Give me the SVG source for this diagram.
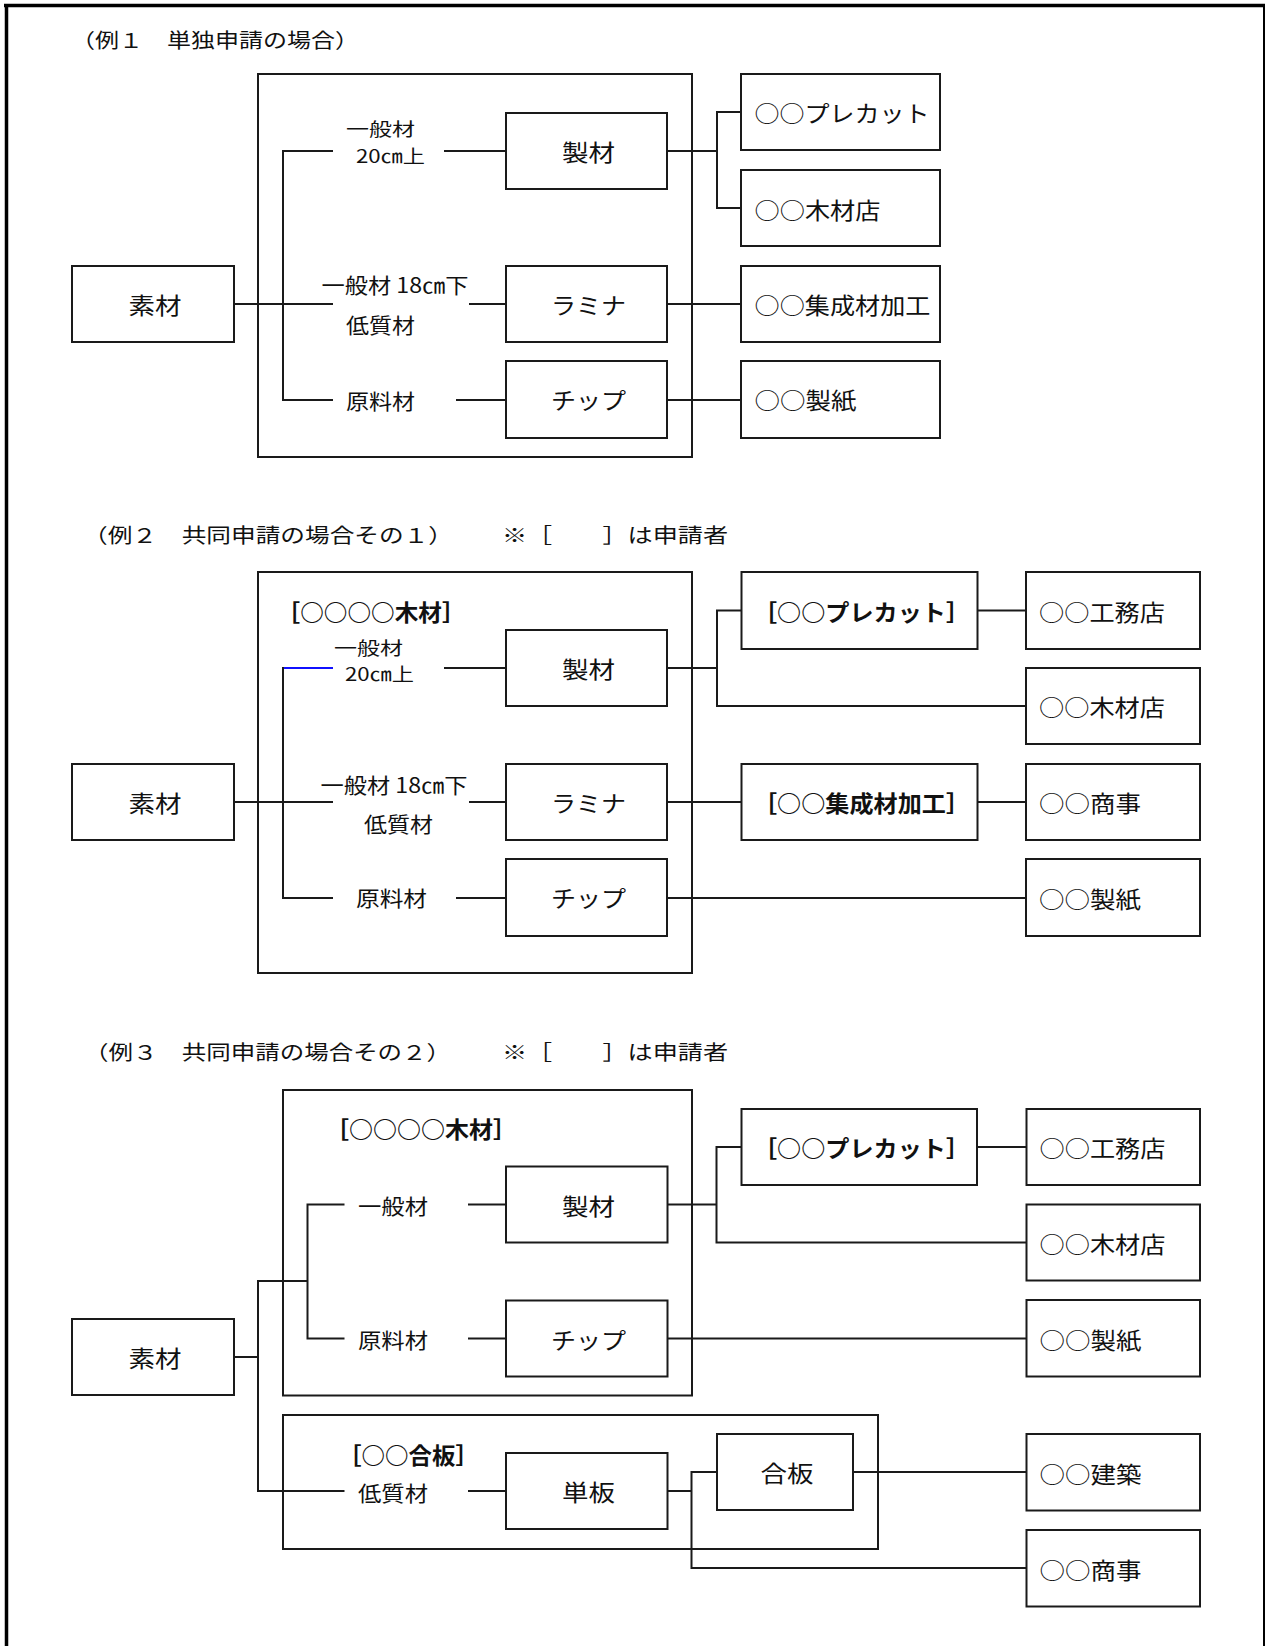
<svg xmlns="http://www.w3.org/2000/svg" width="1265" height="1646" viewBox="0 0 1265 1646">
<style>
.bg{fill:#fff}
.box{fill:#fff;stroke:#1a1a1a;stroke-width:2}
.grp{fill:none;stroke:#1a1a1a;stroke-width:2}
.ln{fill:none;stroke:#1a1a1a;stroke-width:2}
.blue{fill:none;stroke:#1010ff;stroke-width:2}
.frame{fill:none;stroke:#000}
text{font-family:"Noto Sans CJK JP","Noto Sans",sans-serif;fill:#111}
.bt{font-size:23px;text-anchor:middle}
.rt{font-size:23px}
.lb{font-size:21px}
.lb2{font-size:18px}
.ti{font-size:20px}
.b{font-weight:bold}
</style>
<rect class="bg" x="0" y="0" width="1265" height="1646"/>
<g id="frame">
<line class="frame" x1="4" y1="5.5" x2="1265" y2="5.5" stroke-width="3.5"/>
<line class="frame" x1="6.5" y1="4" x2="6.5" y2="1646" stroke-width="3.5"/>
<line class="frame" x1="1264" y1="4" x2="1264" y2="1646" stroke-width="2"/>
</g>

<g id="titles">
<text class="ti" x="71" y="47.5" textLength="288" lengthAdjust="spacingAndGlyphs">（例１　単独申請の場合）</text>
<text class="ti" x="83" y="543" textLength="370" lengthAdjust="spacingAndGlyphs">（例２　共同申請の場合その１）</text>
<text class="ti" x="502" y="543" textLength="226" lengthAdjust="spacingAndGlyphs">※［　　］は申請者</text>
<text class="ti" x="84" y="1060" textLength="367" lengthAdjust="spacingAndGlyphs">（例３　共同申請の場合その２）</text>
<text class="ti" x="502" y="1060" textLength="226" lengthAdjust="spacingAndGlyphs">※［　　］は申請者</text>
</g>

<!-- Example 1 -->
<g id="e1_group"><rect class="grp" x="258" y="74" width="434" height="383"/></g>
<g id="connectors_e1">
<path class="ln" d="M234 304 H333"/>
<path class="ln" d="M333 151 H283 V400 H333"/>
<path class="ln" d="M444 151 H506"/>
<path class="ln" d="M469 304 H506"/>
<path class="ln" d="M456 400 H506"/>
<path class="ln" d="M667 151 H717"/>
<path class="ln" d="M741 112 H717 V208 H741"/>
<path class="ln" d="M667 304 H741"/>
<path class="ln" d="M667 400 H741"/>
</g>
<g id="e1_labels">
<text class="lb2" x="346" y="136" textLength="69" lengthAdjust="spacingAndGlyphs">一般材</text>
<text class="lb2" x="356" y="162.5" textLength="69" lengthAdjust="spacingAndGlyphs">20㎝上</text>
<text class="lb" x="321.5" y="293" textLength="147" lengthAdjust="spacingAndGlyphs">一般材 18㎝下</text>
<text class="lb" x="346" y="332.5" textLength="69" lengthAdjust="spacingAndGlyphs">低質材</text>
<text class="lb" x="346" y="409" textLength="69" lengthAdjust="spacingAndGlyphs">原料材</text>
</g>
<g id="e1_sozai"><rect class="box" x="72" y="266" width="162" height="76"/><text class="bt" x="155" y="314" textLength="53" lengthAdjust="spacingAndGlyphs">素材</text></g>
<g id="e1_seizai"><rect class="box" x="506" y="113" width="161" height="76"/><text class="bt" x="588.5" y="161" textLength="53" lengthAdjust="spacingAndGlyphs">製材</text></g>
<g id="e1_lamina"><rect class="box" x="506" y="266" width="161" height="76"/><text class="bt" x="588.5" y="314" textLength="75" lengthAdjust="spacingAndGlyphs">ラミナ</text></g>
<g id="e1_chip"><rect class="box" x="506" y="361" width="161" height="77"/><text class="bt" x="588.5" y="408.5" textLength="75" lengthAdjust="spacingAndGlyphs">チップ</text></g>
<g id="e1_precut"><rect class="box" x="741" y="74" width="199" height="76"/><text class="rt" x="754.5" y="122" textLength="175" lengthAdjust="spacingAndGlyphs">○○プレカット</text></g>
<g id="e1_mokuzaiten"><rect class="box" x="741" y="170" width="199" height="76"/><text class="rt" x="754.5" y="218.5" textLength="126" lengthAdjust="spacingAndGlyphs">○○木材店</text></g>
<g id="e1_shuseizai"><rect class="box" x="741" y="266" width="199" height="76"/><text class="rt" x="754.5" y="314" textLength="176" lengthAdjust="spacingAndGlyphs">○○集成材加工</text></g>
<g id="e1_seishi"><rect class="box" x="741" y="361" width="199" height="77"/><text class="rt" x="754.5" y="409" textLength="102" lengthAdjust="spacingAndGlyphs">○○製紙</text></g>

<!-- Example 2 -->
<g id="e2_group"><rect class="grp" x="258" y="572" width="434" height="401"/><text class="rt b" x="276.5" y="621" textLength="189" lengthAdjust="spacingAndGlyphs">［○○○○木材］</text></g>
<g id="connectors_e2">
<path class="ln" d="M234 802 H333"/>
<path class="blue" d="M283 668 H333"/>
<path class="ln" d="M283 667 V898 H333"/>
<path class="ln" d="M444 668 H506"/>
<path class="ln" d="M469 802 H506"/>
<path class="ln" d="M456 898 H506"/>
<path class="ln" d="M667 668 H717"/>
<path class="ln" d="M741.5 610.5 H717 V706 H1026"/>
<path class="ln" d="M977.5 610.5 H1026"/>
<path class="ln" d="M667 802 H741.5"/>
<path class="ln" d="M977.5 802 H1026"/>
<path class="ln" d="M667 898 H1026"/>
</g>
<g id="e2_labels">
<text class="lb2" x="334" y="654.5" textLength="69" lengthAdjust="spacingAndGlyphs">一般材</text>
<text class="lb2" x="345" y="681" textLength="69" lengthAdjust="spacingAndGlyphs">20㎝上</text>
<text class="lb" x="320.5" y="793" textLength="147" lengthAdjust="spacingAndGlyphs">一般材 18㎝下</text>
<text class="lb" x="364" y="832" textLength="69" lengthAdjust="spacingAndGlyphs">低質材</text>
<text class="lb" x="356" y="906" textLength="71" lengthAdjust="spacingAndGlyphs">原料材</text>
</g>
<g id="e2_sozai"><rect class="box" x="72" y="764" width="162" height="76"/><text class="bt" x="155" y="812" textLength="53" lengthAdjust="spacingAndGlyphs">素材</text></g>
<g id="e2_seizai"><rect class="box" x="506" y="630" width="161" height="76"/><text class="bt" x="588.5" y="678" textLength="53" lengthAdjust="spacingAndGlyphs">製材</text></g>
<g id="e2_lamina"><rect class="box" x="506" y="764" width="161" height="76"/><text class="bt" x="588.5" y="812" textLength="75" lengthAdjust="spacingAndGlyphs">ラミナ</text></g>
<g id="e2_chip"><rect class="box" x="506" y="859" width="161" height="77"/><text class="bt" x="588.5" y="907" textLength="75" lengthAdjust="spacingAndGlyphs">チップ</text></g>
<g id="e2_precut"><rect class="box" x="741.5" y="572" width="236" height="77"/><text class="rt b" x="753" y="620.5" textLength="217" lengthAdjust="spacingAndGlyphs">［○○プレカット］</text></g>
<g id="e2_koumuten"><rect class="box" x="1026" y="572" width="174" height="77"/><text class="rt" x="1039" y="620.5" textLength="126" lengthAdjust="spacingAndGlyphs">○○工務店</text></g>
<g id="e2_mokuzaiten"><rect class="box" x="1026" y="668" width="174" height="76"/><text class="rt" x="1039" y="716" textLength="126" lengthAdjust="spacingAndGlyphs">○○木材店</text></g>
<g id="e2_shuseizai"><rect class="box" x="741.5" y="764" width="236" height="76"/><text class="rt b" x="753" y="812" textLength="217" lengthAdjust="spacingAndGlyphs">［○○集成材加工］</text></g>
<g id="e2_shoji"><rect class="box" x="1026" y="764" width="174" height="76"/><text class="rt" x="1039" y="812" textLength="102" lengthAdjust="spacingAndGlyphs">○○商事</text></g>
<g id="e2_seishi"><rect class="box" x="1026" y="859" width="174" height="77"/><text class="rt" x="1039" y="907.5" textLength="102" lengthAdjust="spacingAndGlyphs">○○製紙</text></g>

<!-- Example 3 -->
<g id="e3_groupA"><rect class="grp" x="283" y="1090" width="409" height="305.5"/><text class="rt b" x="325" y="1138" textLength="192" lengthAdjust="spacingAndGlyphs">［○○○○木材］</text></g>
<g id="e3_groupB"><rect class="grp" x="283" y="1415" width="595" height="134"/><text class="rt b" x="338" y="1464" textLength="141" lengthAdjust="spacingAndGlyphs">［○○合板］</text></g>
<g id="connectors_e3">
<path class="ln" d="M234 1357 H258"/>
<path class="ln" d="M307.5 1281 H258 V1491 H344.5"/>
<path class="ln" d="M344.5 1204.5 H307.5 V1338.5 H344.5"/>
<path class="ln" d="M468 1204.5 H506"/>
<path class="ln" d="M468 1338.5 H506"/>
<path class="ln" d="M468 1491 H506"/>
<path class="ln" d="M667.5 1204.5 H716.5"/>
<path class="ln" d="M741.5 1147 H716.5 V1242.5 H1026.5"/>
<path class="ln" d="M977 1147 H1026.5"/>
<path class="ln" d="M667.5 1338.5 H1026.5"/>
<path class="ln" d="M667.5 1491 H691.5"/>
<path class="ln" d="M717 1472 H691.5 V1568 H1026.5"/>
<path class="ln" d="M853 1472 H1026.5"/>
</g>
<g id="e3_labels">
<text class="lb" x="358" y="1213.5" textLength="70" lengthAdjust="spacingAndGlyphs">一般材</text>
<text class="lb" x="358" y="1347.5" textLength="70" lengthAdjust="spacingAndGlyphs">原料材</text>
<text class="lb" x="358" y="1500.5" textLength="70" lengthAdjust="spacingAndGlyphs">低質材</text>
</g>
<g id="e3_sozai"><rect class="box" x="72" y="1319" width="162" height="76"/><text class="bt" x="155" y="1367" textLength="53" lengthAdjust="spacingAndGlyphs">素材</text></g>
<g id="e3_seizai"><rect class="box" x="506" y="1166.5" width="161.5" height="76"/><text class="bt" x="588.5" y="1214.5" textLength="53" lengthAdjust="spacingAndGlyphs">製材</text></g>
<g id="e3_chip"><rect class="box" x="506" y="1300.5" width="161.5" height="76"/><text class="bt" x="588.5" y="1348.5" textLength="75" lengthAdjust="spacingAndGlyphs">チップ</text></g>
<g id="e3_tanpan"><rect class="box" x="506" y="1453" width="161.5" height="76"/><text class="bt" x="588.5" y="1501" textLength="53" lengthAdjust="spacingAndGlyphs">単板</text></g>
<g id="e3_gouhan"><rect class="box" x="717" y="1434" width="136" height="76"/><text class="bt" x="787" y="1482" textLength="53" lengthAdjust="spacingAndGlyphs">合板</text></g>
<g id="e3_precut"><rect class="box" x="741.5" y="1109" width="235.5" height="76"/><text class="rt b" x="753" y="1157" textLength="217" lengthAdjust="spacingAndGlyphs">［○○プレカット］</text></g>
<g id="e3_koumuten"><rect class="box" x="1026.5" y="1109" width="173.5" height="76"/><text class="rt" x="1039.5" y="1157" textLength="126" lengthAdjust="spacingAndGlyphs">○○工務店</text></g>
<g id="e3_mokuzaiten"><rect class="box" x="1026.5" y="1204.5" width="173.5" height="76"/><text class="rt" x="1039.5" y="1252.5" textLength="126" lengthAdjust="spacingAndGlyphs">○○木材店</text></g>
<g id="e3_seishi"><rect class="box" x="1026.5" y="1300" width="173.5" height="76.5"/><text class="rt" x="1039.5" y="1348.5" textLength="102" lengthAdjust="spacingAndGlyphs">○○製紙</text></g>
<g id="e3_kenchiku"><rect class="box" x="1026.5" y="1434" width="173.5" height="76.5"/><text class="rt" x="1039.5" y="1482.5" textLength="102" lengthAdjust="spacingAndGlyphs">○○建築</text></g>
<g id="e3_shoji"><rect class="box" x="1026.5" y="1530" width="173.5" height="76.5"/><text class="rt" x="1039.5" y="1578.5" textLength="102" lengthAdjust="spacingAndGlyphs">○○商事</text></g>
</svg>
